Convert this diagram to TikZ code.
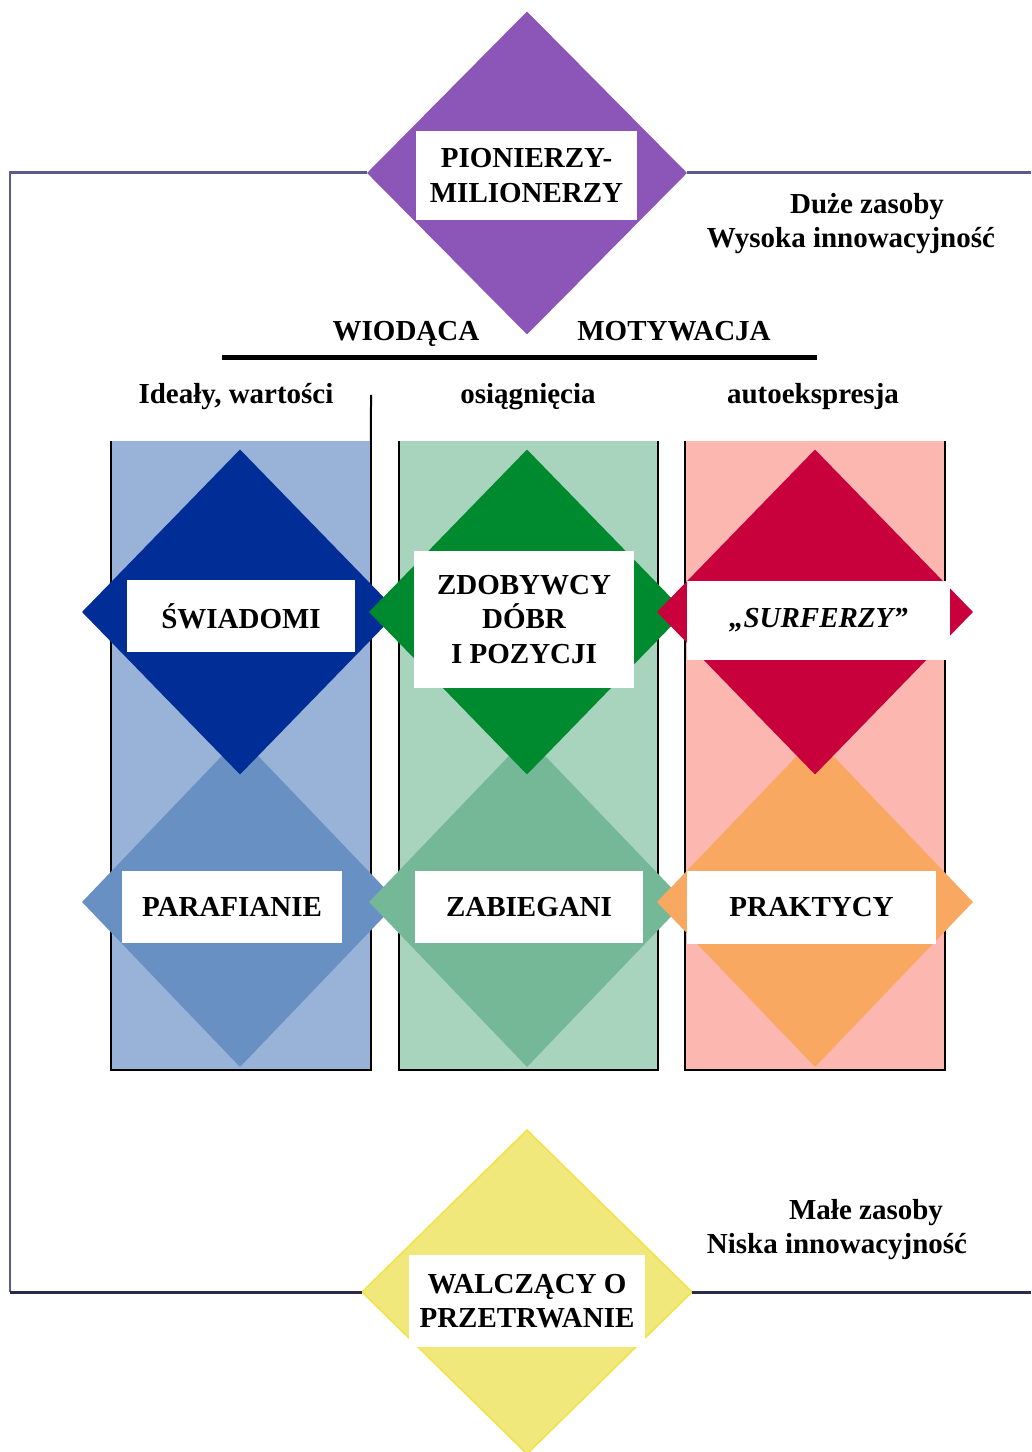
\documentclass[tikz,border=0pt]{standalone}
\usepackage{fontspec}
\setmainfont{Liberation Serif}
\usetikzlibrary{shapes.geometric}

\definecolor{pionColor}{HTML}{8C55B8}
\definecolor{frameTop}{HTML}{5A5A8C}
\definecolor{frameBot}{HTML}{2A2A4A}
\definecolor{colBlue}{HTML}{98B2D8}
\definecolor{colGreen}{HTML}{A8D4BE}
\definecolor{colRed}{HTML}{FCB8B0}
\definecolor{upBlue}{HTML}{002D96}
\definecolor{upGreen}{HTML}{008A30}
\definecolor{upRed}{HTML}{C8003C}
\definecolor{loBlue}{HTML}{6890C2}
\definecolor{loGreen}{HTML}{74B898}
\definecolor{loRed}{HTML}{F8A860}
\definecolor{walczColor}{HTML}{F0E87A}
\definecolor{walczEdge}{HTML}{F2E24A}

\tikzset{
  rhomb/.style={diamond, inner sep=0pt, outer sep=0pt, draw=none},
  tag/.style={fill=white, inner sep=0pt, outer sep=0pt, align=center,
    font=\bfseries\fontsize{16.5}{19.5}\selectfont},
  txt/.style={inner sep=0pt, anchor=base, font=\bfseries\fontsize{16.5}{19.5}\selectfont},
  column/.style={rectangle, inner sep=0pt, outer sep=0pt, minimum width=5.2cm, minimum height=12.58cm},
  colborder/.style={line width=0.04cm}
}

\begin{document}
\begin{tikzpicture}[x=0.02cm, y=-0.02cm]
  \useasboundingbox (0,0) rectangle (1031,1452);

  % frame corners
  \coordinate (fTL) at (10,173);
  \coordinate (fTR) at (1031,173);
  \coordinate (fBL) at (10,1292);
  \coordinate (fBR) at (1031,1292);

  % top and bottom diamonds
  \node[rhomb, fill=pionColor, minimum width=6.4cm, minimum height=6.46cm] (pion) at (527,173) {};
  \node[rhomb, fill=walczColor, draw=walczEdge, line width=0.03cm,
        minimum width=6.6cm, minimum height=6.48cm] (walcz) at (527,1292) {};

  \draw[frameTop, line width=0.06cm] (fTR) -- (pion.east);
  \draw[frameTop, line width=0.06cm] (pion.west) -- (fTL) -- (fBL);
  \draw[frameBot, line width=0.06cm] (fBL) -- (walcz.west);
  \draw[frameBot, line width=0.06cm] (walcz.east) -- (fBR);

  % motivation heading
  \coordinate (barL) at (222,358);
  \coordinate (barR) at (817,358);
  \draw[line width=0.1cm] (barL) -- (barR);
  \node[txt] (wiod) at (406,341) {WIODĄCA};
  \node[txt] (motyw) at (674,341) {MOTYWACJA};
  \node[txt] (ideal) at (236,404) {Ideały, wartości};
  \node[txt] (osiag) at (528,404) {osiągnięcia};
  \node[txt] (autoe) at (813,404) {autoekspresja};

  % columns
  \foreach \cx/\fc/\name in {241/colBlue/c1, 528.5/colGreen/c2, 815/colRed/c3}
  {
    \node[column, fill=\fc] (\name) at (\cx,755.5) {};
    \draw[colborder] (\name.north west) -- (\name.south west) -- (\name.south east) -- (\name.north east);
  }
  \coordinate (c1top) at (371,395);
  \draw[colborder] (c1.north east) -- (c1top);

  % lower and upper diamonds
  \foreach \cx/\lo/\n in {240/loBlue/a, 527/loGreen/b, 815/loRed/c}
    \node[rhomb, fill=\lo, minimum width=6.32cm, minimum height=6.6cm] (lo\n) at (\cx,902) {};
  \foreach \cx/\up/\n in {240/upBlue/a, 527/upGreen/b, 815/upRed/c}
    \node[rhomb, fill=\up, minimum width=6.32cm, minimum height=6.5cm] (up\n) at (\cx,612) {};

  % labels
  \node[tag, minimum width=4.42cm, minimum height=1.78cm] (pionTag) at (526.5,175.5) {PIONIERZY-\\MILIONERZY};
  \node[tag, minimum width=4.56cm, minimum height=1.44cm] (swiad) at (241,616) {ŚWIADOMI};
  \node[tag, minimum width=4.4cm, minimum height=2.74cm] (zdob) at (524,619.5) {ZDOBYWCY\\DÓBR\\I POZYCJI};
  \node[tag, minimum width=5.26cm, minimum height=1.58cm] (surf) at (818.5,620.5) {\itshape „SURFERZY”};
  \node[tag, minimum width=4.4cm, minimum height=1.44cm] (paraf) at (232,907) {PARAFIANIE};
  \node[tag, minimum width=4.56cm, minimum height=1.44cm] (zabieg) at (529,907) {ZABIEGANI};
  \node[tag, minimum width=4.98cm, minimum height=1.46cm] (prakt) at (811.5,907.5) {PRAKTYCY};
  \node[tag, minimum width=4.72cm, minimum height=1.84cm] (walczTag) at (527,1301) {WALCZĄCY O\\PRZETRWANIE};

  % resources
  \node[txt] (duze) at (867,214) {Duże zasoby};
  \node[txt] (wysoka) at (851,248) {Wysoka innowacyjność};
  \node[txt] (male) at (866,1219) {Małe zasoby};
  \node[txt] (niska) at (837,1253) {Niska innowacyjność};
\end{tikzpicture}
\end{document}
